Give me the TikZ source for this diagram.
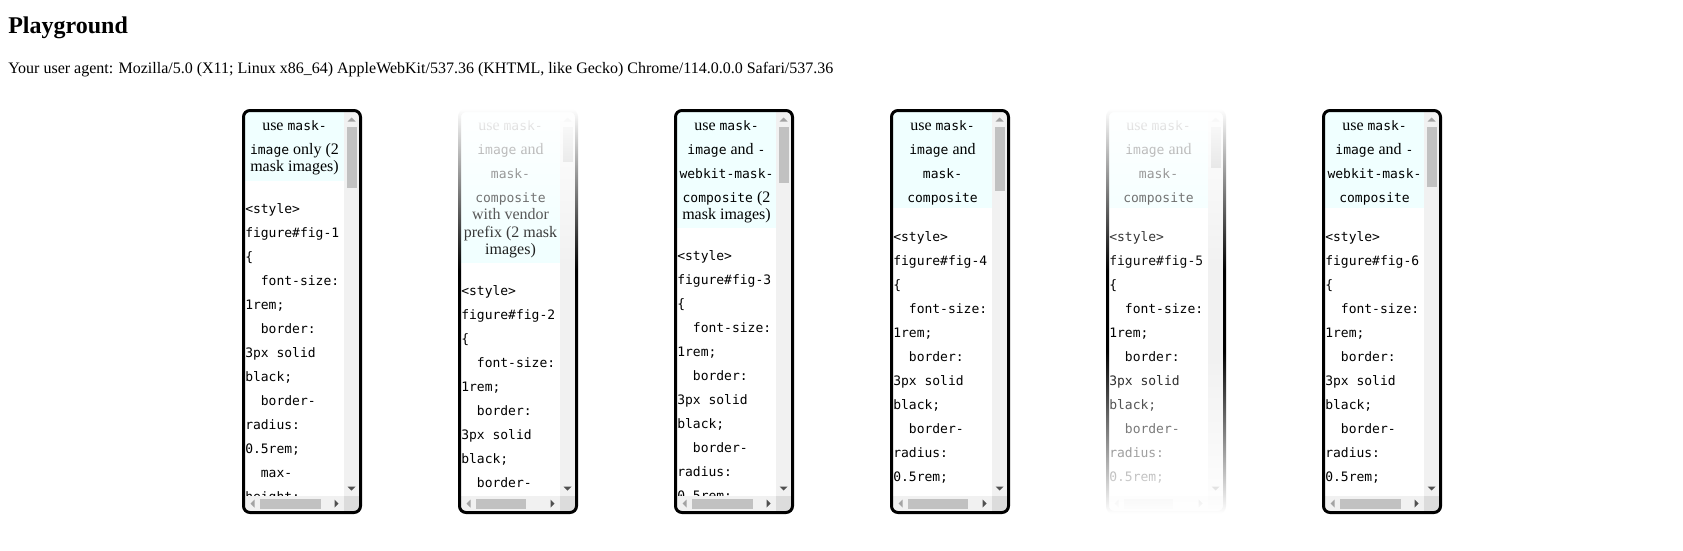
\documentclass[tikz,border=0pt]{standalone}
\usepackage{fontspec}
\setmainfont{Liberation Serif}
\newfontfamily\codefont{DejaVu Sans Mono}
\definecolor{capbg}{RGB}{240,255,255}
\definecolor{trackc}{RGB}{241,241,241}
\definecolor{thumbc}{RGB}{193,193,193}
\definecolor{cornerc}{RGB}{220,220,220}
\definecolor{arrowon}{RGB}{80,80,80}
\definecolor{arrowoff}{RGB}{163,163,163}
\newcommand\mcode[1]{{\codefont\fontsize{9.75pt}{12pt}\selectfont #1}}
\tikzset{
  codeline/.style={anchor=base west, inner sep=0pt, font=\codefont\fontsize{9.75pt}{12pt}\selectfont},
  capline/.style={anchor=base, inner sep=0pt, font=\fontsize{12pt}{14pt}\selectfont},
  plaintext/.style={anchor=base west, inner sep=0pt, font=\fontsize{12pt}{14pt}\selectfont},
  titletext/.style={anchor=base west, inner sep=0pt, font=\bfseries\fontsize{18pt}{20pt}\selectfont},
  boxborder/.style={draw=black, line width=2.25pt, rounded corners=4.875pt},
}
% #1 id, #2 left, #3 first baseline, #4 number of lines
\newcommand\codeblock[4]{%
  \begin{scope}
    \clip (#2+3,112) rectangle (#2+102,496);
    \foreach \t [count=\k from 0] in {<style>, figure\#fig-#1, {\{}, \hphantom{xx}font-size:, 1rem;, \hphantom{xx}border:, 3px solid, black;, \hphantom{xx}border-, radius:, 0.5rem;, \hphantom{xx}max-, height:}{%
      \ifnum\k<#4\relax
        \node[codeline] (b#1l\k) at (#2+3,{#3+24*\k}) {\t};
      \fi
    }
  \end{scope}
}
% #1 left, #2 vertical thumb bottom, #3 horizontal thumb right offset
\newcommand\scrollparts[3]{%
  \fill[trackc] (#1+102,112) rectangle (#1+117,496);
  \fill[trackc] (#1+3,496) rectangle (#1+102,511);
  \fill[cornerc] (#1+102,496) rectangle (#1+117,511);
  \fill[thumbc] (#1+105,127) rectangle (#1+114.5,#2);
  \fill[thumbc] (#1+18,498.5) rectangle (#1+#3,508.5);
  \fill[arrowoff] (#1+105.5,121.5) -- (#1+113.5,121.5) -- (#1+109.5,117.5) -- cycle;
  \fill[arrowon] (#1+105.5,486.5) -- (#1+113.5,486.5) -- (#1+109.5,490.5) -- cycle;
  \fill[arrowoff] (#1+12.5,499.5) -- (#1+12.5,507.5) -- (#1+8.5,503.5) -- cycle;
  \fill[arrowon] (#1+92.5,499.5) -- (#1+92.5,507.5) -- (#1+96.5,503.5) -- cycle;
  \draw[boxborder] (#1+1.5,110.5) rectangle (#1+118.5,512.5);
}
\begin{document}
\begin{tikzpicture}[x=0.75pt,y=-0.75pt]
\fill[white] (0,0) rectangle (1683,550);
\useasboundingbox (0,0) rectangle (1683,550);
\node[titletext] (title) at (8,33.3) {Playground};
\node[plaintext] (agent) at (8,73.3) {Your user agent: Mozilla/5.0 (X11; Linux x86\_64) AppleWebKit/537.36 (KHTML, like Gecko) Chrome/114.0.0.0 Safari/537.36};

% ---------- Box 1
\fill[capbg] (245,112) rectangle (344,181);
\node[capline] (b1c1) at (294.5,130) {use \mcode{mask-}};
\node[capline] (b1c2) at (294.5,154) {\mcode{image} only (2};
\node[capline] (b1c3) at (294.5,171.5) {mask images)};
\codeblock{1}{242}{213}{13}
\scrollparts{242}{188}{79}

% ---------- Box 2
\fill[capbg] (461,112) rectangle (560,263);
\node[capline] (b2c1) at (510.5,130) {use \mcode{mask-}};
\node[capline] (b2c2) at (510.5,154) {\mcode{image} and};
\node[capline] (b2c3) at (510.5,178) {\mcode{mask-}};
\node[capline] (b2c4) at (510.5,202) {\mcode{composite}};
\node[capline] (b2c5) at (510.5,219.5) {with vendor};
\node[capline] (b2c6) at (510.5,237) {prefix (2 mask};
\node[capline] (b2c7) at (510.5,254.5) {images)};
\codeblock{2}{458}{295.5}{9}
\scrollparts{458}{162}{68}
\foreach \yy in {108,...,270}{%
  \pgfmathsetmacro\op{max(0,min(1,1-(\yy+0.5-109)/162))}%
  \fill[white,opacity=\op] (456,\yy) rectangle (580,\yy+1);
}

% ---------- Box 3
\fill[capbg] (677,112) rectangle (776,228);
\node[capline] (b3c1) at (726.5,130) {use \mcode{mask-}};
\node[capline] (b3c2) at (726.5,154) {\mcode{image} and \mcode{-}};
\node[capline] (b3c3) at (726.5,178) {\mcode{webkit-mask-}};
\node[capline] (b3c4) at (726.5,202) {\mcode{composite} (2};
\node[capline] (b3c5) at (726.5,219.5) {mask images)};
\codeblock{3}{674}{260}{11}
\scrollparts{674}{183}{79}

% ---------- Box 4
\fill[capbg] (893,112) rectangle (992,208);
\node[capline] (b4c1) at (942.5,130) {use \mcode{mask-}};
\node[capline] (b4c2) at (942.5,154) {\mcode{image} and};
\node[capline] (b4c3) at (942.5,178) {\mcode{mask-}};
\node[capline] (b4c4) at (942.5,202) {\mcode{composite}};
\codeblock{4}{890}{241}{11}
\scrollparts{890}{191}{78}

% ---------- Box 5
\fill[capbg] (1109,112) rectangle (1208,208);
\node[capline] (b5c1) at (1158.5,130) {use \mcode{mask-}};
\node[capline] (b5c2) at (1158.5,154) {\mcode{image} and};
\node[capline] (b5c3) at (1158.5,178) {\mcode{mask-}};
\node[capline] (b5c4) at (1158.5,202) {\mcode{composite}};
\codeblock{5}{1106}{241}{11}
\scrollparts{1106}{168}{67}
\foreach \yy in {108,...,514}{%
  \pgfmathsetmacro\op{max(0,min(1,1-min((\yy+0.5-109)/162,(514-\yy-0.5)/162)))}%
  \fill[white,opacity=\op] (1104,\yy) rectangle (1228,\yy+1);
}

% ---------- Box 6
\fill[capbg] (1325,112) rectangle (1424,208);
\node[capline] (b6c1) at (1374.5,130) {use \mcode{mask-}};
\node[capline] (b6c2) at (1374.5,154) {\mcode{image} and \mcode{-}};
\node[capline] (b6c3) at (1374.5,178) {\mcode{webkit-mask-}};
\node[capline] (b6c4) at (1374.5,202) {\mcode{composite}};
\codeblock{6}{1322}{241}{11}
\scrollparts{1322}{187}{79}
\end{tikzpicture}
\end{document}
